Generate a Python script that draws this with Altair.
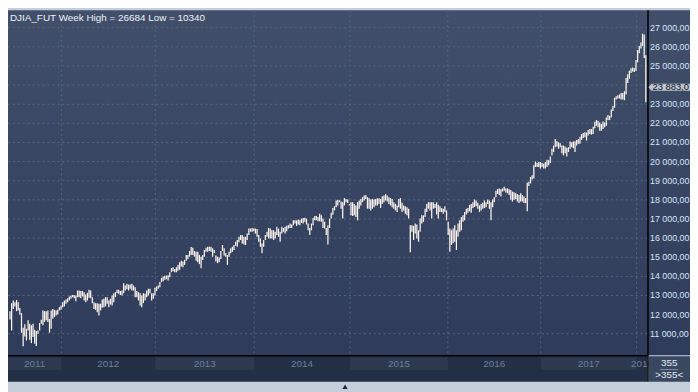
import altair as alt
import pandas as pd

# ---- weekly bar ranges (high / low) ----
high_a = [12170, 12600, 12740, 12650, 12770, 12650, 12340, 12080, 11310, 11490,
          11260, 11700, 11520, 11440, 11520, 11210, 11140, 11170, 11560, 11730,
          12220, 12180, 12180, 12220, 11780, 12220, 12300, 12250, 12220, 12250,
          12390, 12480, 12650, 12740, 12790, 12860, 12950, 13000, 13030, 13020,
          13000, 13260, 13260, 13240, 13240, 13170, 13050, 13140, 13300, 13260,
          12910, 12650, 12600, 12600, 12570, 12570, 12790, 12830, 12910, 12910,
          12740, 12830, 13000, 13120, 13170, 13300, 13300, 13230, 13260, 13640,
          13520, 13610, 13570, 13570, 13610, 13520, 13430, 13230, 13170, 13120,
          13000, 13120, 13090, 13260, 13350, 13350, 13120, 13120, 13400, 13470,
          13520, 13700, 13920, 13990, 14030, 14040, 14060, 14220, 14440, 14480,
          14390]
low_a = [11750, 11170, 12300, 12430, 12180, 12220, 11990, 11050, 10340, 10860,
         10650, 11170, 10690, 10510, 10830, 10480, 10360, 11000, 11170, 11520,
         11440, 11610, 11700, 11610, 11050, 11260, 11780, 11870, 11960, 12010,
         12220, 12250, 12390, 12430, 12570, 12650, 12740, 12830, 12910, 12860,
         12700, 12910, 12910, 12860, 12950, 12740, 12650, 12740, 12880, 12860,
         12600, 12300, 12250, 12130, 11960, 12220, 12360, 12390, 12430, 12570,
         12390, 12530, 12480, 12650, 12910, 13120, 13090, 13030, 13000, 13120,
         13260, 13330, 13260, 13350, 13260, 13260, 12910, 12910, 12740, 12480,
         12390, 12600, 12740, 12910, 13000, 13120, 12740, 12830, 13000, 13230,
         13350, 13430, 13700, 13750, 13820, 13850, 13780, 13960, 14220, 14270,
         14220]

high_b = [14470, 14600, 14740, 14810, 14780, 14860, 15120, 15120, 15330, 15530,
          15500, 15330, 15290, 15290, 15120, 15030, 15120, 15380, 15500, 15550,
          15550, 15550, 15470, 15380, 15090, 15030, 14980, 15330, 15640, 15470,
          15210, 15120, 15290, 15470, 15550, 15640, 15810, 15900, 16070, 16160,
          16160, 16070, 16070, 16240, 16500, 16500, 16530, 16500, 16500, 16470,
          16160, 15980, 15720, 15900, 16160, 16330, 16530, 16500, 16410, 16410,
          16330, 16590, 16500, 16330, 16590, 16530, 16590, 16640, 16670, 16760,
          16710, 16930, 16930, 16930, 16970, 16930, 17020, 17050, 17070, 17020,
          16760, 16530, 16760, 17050, 17160, 17160, 17100, 17280, 17190, 17020,
          16850, 16530, 16670, 17020, 17330, 17570, 17670]
low_b = [14220, 14290, 14350, 14520, 14470, 14600, 14810, 14910, 15030, 15120,
         15120, 15030, 14810, 14740, 14640, 14430, 14860, 15030, 15290, 15290,
         15330, 15290, 15030, 15210, 14780, 14690, 14740, 14910, 15330, 15090,
         15030, 14600, 15030, 15210, 15290, 15380, 15600, 15550, 15780, 15900,
         15720, 15670, 15640, 15900, 16160, 16330, 16330, 16360, 16240, 16070,
         15810, 15550, 15210, 15550, 15900, 16070, 15980, 15980, 15980, 15900,
         15980, 16160, 16070, 15810, 16240, 16330, 16240, 16360, 16500, 16530,
         16530, 16670, 16760, 16640, 16710, 16670, 16790, 16760, 16850, 16710,
         16410, 16160, 16410, 16670, 16930, 16930, 16880, 16880, 16850, 16530,
         16500, 16160, 15670, 16530, 17020, 17220, 17450]

high_c = [17970, 18000, 17980, 17910, 17880, 18090, 18050, 18020, 17790, 17880,
          17880, 17790, 17710, 17880, 17970, 18050, 18140, 18230, 18260, 18140,
          18090, 18020, 18050, 18020, 18050, 18090, 18090, 18050, 18190, 18230,
          18310, 18230, 18140, 18090, 18050, 17880, 17790, 17710, 18050, 18090,
          17850, 17710, 17670, 17620, 17540, 16670, 16670, 16640, 16760, 16710,
          16410, 17020, 17190, 17190, 17540, 17790, 17880, 17880, 17880, 17880,
          17790, 17880, 17740, 17670, 17570, 17540, 17670, 17450, 16850, 16500,
          16410, 16500, 16670, 16410, 16760, 16930, 17100, 17190, 17360, 17540,
          17570, 17740, 17790, 17880, 18020, 17970, 17850, 17710, 17790, 17850,
          17970, 17880, 18020, 17970, 17880, 18020, 18140, 18480, 18570]
low_c = [17620, 17710, 17880, 17540, 17020, 17710, 17880, 17830, 17710, 17190,
         17160, 17190, 17100, 16930, 17540, 17710, 17880, 17970, 18050, 17540,
         17540, 17450, 17540, 17620, 17710, 17710, 17790, 17570, 17790, 17880,
         17970, 17910, 17790, 17710, 17620, 17540, 17450, 17360, 17620, 17540,
         17360, 17450, 17280, 17190, 17020, 15260, 16330, 15900, 16240, 15980,
         15810, 16330, 16760, 16850, 17100, 17360, 17540, 17450, 17020, 17540,
         17570, 17230, 17020, 17360, 17360, 17280, 17360, 16930, 16160, 15290,
         15640, 15730, 15810, 15380, 16070, 16330, 16410, 16850, 16930, 17230,
         17330, 17400, 17330, 17570, 17620, 17670, 17540, 17360, 17450, 17540,
         17570, 17620, 17790, 17540, 16930, 17620, 17880, 18140, 18310]

high_d = [18600, 18550, 18600, 18690, 18600, 18600, 18550, 18520, 18430, 18400,
          18340, 18310, 18260, 18340, 18260, 18170, 18090, 18900, 18950, 19200,
          19290, 19810, 20010, 19930, 19980, 19980, 19930, 19890, 19980, 20100,
          20070, 20270, 20670, 20840, 21180, 21060, 21010, 20960, 20840, 20840,
          20790, 20720, 20750, 21050, 21010, 21050, 21060, 21130, 21180, 21300,
          21440, 21490, 21530, 21530, 21650, 21700, 21700, 21820, 22080, 22170,
          22130, 22040, 21960, 22100, 22040, 22300, 22440, 22390, 22730, 22910,
          23340, 23420, 23470, 23510, 23590, 23590, 23680, 24370, 24570, 24750,
          24880, 24920, 24880, 25310, 25830, 26050, 26230, 26684, 26650, 25560]
low_d = [18260, 18170, 18430, 18480, 18380, 18340, 18260, 18000, 17910, 18000,
         18030, 17910, 17830, 17910, 17910, 17830, 17830, 17400, 18720, 18860,
         19070, 19120, 19720, 19720, 19720, 19640, 19720, 19640, 19640, 19720,
         19810, 19930, 20320, 20500, 20750, 20790, 20670, 20750, 20440, 20320,
         20440, 20270, 20500, 20670, 20750, 20700, 20500, 20840, 20930, 20930,
         21130, 21240, 21270, 21100, 21360, 21440, 21410, 21440, 21750, 21870,
         21790, 21610, 21610, 21700, 21790, 21870, 22170, 22170, 22300, 22650,
         22820, 23250, 23300, 23300, 23250, 23250, 23210, 23510, 24110, 24330,
         24630, 24710, 24680, 24750, 25190, 25660, 25920, 26050, 25420, 23100]

# ---- axis / annotation data ----
year_labels = ["2011", "2012", "2013", "2014", "2015", "2016", "2017", "2018"]
year_start_bar = [-1.2, 31.2, 88.2, 148.2, 206.4, 265.8, 322.2, 380.4]
year_end_bar = [31.2, 88.2, 148.2, 206.4, 265.8, 322.2, 380.4, 387.0]
year_shaded = [True, False, True, False, True, False, True, False]

price_labels = [27000, 26000, 25000, 23000, 22000, 21000, 20000, 19000, 18000,
                17000, 16000, 15000, 14000, 13000, 12000, 11000]
grid_levels = [27000, 26000, 25000, 24000, 23000, 22000, 21000, 20000, 19000,
               18000, 17000, 16000, 15000, 14000, 13000, 11000]
last_price = 23883
title_text = "DJIA_FUT Week High = 26684 Low = 10340"
bar_count_text = "355"
bar_count_sel = ">355<"

FONT = "Liberation Sans"
W, H = 647, 349
XS = alt.Scale(domain=[-1.2, 387.0], nice=False, zero=False)
YS = alt.Scale(domain=[9879, 27915], nice=False, zero=False)

high = high_a + high_b + high_c + high_d
low = low_a + low_b + low_c + low_d
bars = pd.DataFrame({"bar": list(range(len(high))), "high": high, "low": low})

years = pd.DataFrame({"label": year_labels, "start": year_start_bar,
                      "end": year_end_bar, "shaded": year_shaded})
years["mid"] = (years["start"] + years["end"]) / 2

def fmt(v, dec=2):
    s = f"{v:,.{dec}f}"
    return s.replace(",", " ").replace(".", ",")

plabels = pd.DataFrame({"v": price_labels, "label": [fmt(v) for v in price_labels]})
grid = pd.DataFrame({"v": grid_levels})
vgrid = pd.DataFrame({"b": year_start_bar[1:]})
lastp = pd.DataFrame({"v": [last_price], "label": [fmt(last_price, 1)]})
one = pd.DataFrame({"k": [0]})

grad = alt.Gradient(
    gradient="linear",
    stops=[alt.GradientStop(color="#414f6a", offset=0),
           alt.GradientStop(color="#2e3b5a", offset=1)],
    x1=0, x2=0, y1=0, y2=1,
)

bg = alt.Chart(one).mark_rect(fill=grad).encode(
    x=alt.value(0), x2=alt.value(690), y=alt.value(0), y2=alt.value(H))

strip = alt.Chart(one).mark_rect(fill="#232f46").encode(
    x=alt.value(0), x2=alt.value(W), y=alt.value(H), y2=alt.value(376))

bands = alt.Chart(years).transform_filter("datum.shaded").mark_rect(fill="#2c3951").encode(
    x=alt.X("start:Q", scale=XS, axis=None), x2="end:Q",
    y=alt.value(351), y2=alt.value(364))

year_text = alt.Chart(years).mark_text(
    font=FONT, fontSize=10, color="#6f7e97", baseline="middle", align="center").encode(
    x=alt.X("mid:Q", scale=XS, axis=None), y=alt.value(358), text="label:N")

hgrid = alt.Chart(grid).mark_rule(color="#56667f", strokeWidth=1, strokeDash=[2, 3]).encode(
    y=alt.Y("v:Q", scale=YS, axis=None), x=alt.value(0), x2=alt.value(W))

vg = alt.Chart(vgrid).mark_rule(color="#56667f", strokeWidth=1, strokeDash=[2, 3]).encode(
    x=alt.X("b:Q", scale=XS, axis=None), y=alt.value(0), y2=alt.value(H))

ohlc = alt.Chart(bars).mark_rule(color="#fff6ef", strokeWidth=1.25).encode(
    x=alt.X("bar:Q", scale=XS, axis=None),
    y=alt.Y("low:Q", scale=YS, axis=None), y2="high:Q")

hline = alt.Chart(one).mark_rule(color="#000000", strokeWidth=1.5).encode(
    x=alt.value(0), x2=alt.value(W), y=alt.value(H + 0.5))
vline = alt.Chart(one).mark_rule(color="#000000", strokeWidth=1.5).encode(
    x=alt.value(W + 0.5), y=alt.value(0), y2=alt.value(376))

corner = alt.Chart(one).mark_rect(fill="#394761").encode(
    x=alt.value(W + 1.5), x2=alt.value(690), y=alt.value(H + 1), y2=alt.value(376))
cnt1 = alt.Chart(one).mark_text(font=FONT, fontSize=10, color="#e2eaf6",
                                 text=bar_count_text).encode(
    x=alt.value(669), y=alt.value(357))
cline = alt.Chart(one).mark_rule(color="#7f8da5", strokeWidth=1).encode(
    x=alt.value(660), x2=alt.value(678), y=alt.value(363.5))
cnt2 = alt.Chart(one).mark_text(font=FONT, fontSize=10, color="#e2eaf6",
                                 text=bar_count_sel).encode(
    x=alt.value(669), y=alt.value(369.5))

tri = alt.Chart(one).mark_point(shape="triangle-up", filled=True, size=28,
                                color="#1c2436", opacity=1).encode(
    x=alt.value(341), y=alt.value(381))

ylab = alt.Chart(plabels).mark_text(font=FONT, fontSize=9, color="#d6e4f7",
                                    align="left", baseline="middle").encode(
    y=alt.Y("v:Q", scale=YS, axis=None), x=alt.value(649.5), text="label:N")

marker = alt.Chart(lastp).mark_point(
    shape="M -1 0 L -0.86 -0.17 L 1 -0.17 L 1 0.17 L -0.86 0.17 Z",
    size=1764, filled=True, color="#bcc4d1", opacity=1, strokeWidth=0).encode(
    y=alt.Y("v:Q", scale=YS, axis=None), x=alt.value(669))
mtext = alt.Chart(lastp).mark_text(font=FONT, fontSize=9.5, color="#0c1320",
                                   align="left", baseline="middle").encode(
    y=alt.Y("v:Q", scale=YS, axis=None), x=alt.value(652), text="label:N")

title = alt.Chart(one).mark_text(font=FONT, fontSize=10, color="#eef2f8",
                                 align="left", baseline="alphabetic",
                                 text=title_text).encode(
    x=alt.value(2), y=alt.value(10.5))

chart = alt.layer(
    bg, strip, bands, year_text, hgrid, vg, ohlc, hline, vline,
    corner, cnt1, cline, cnt2, tri, ylab, marker, mtext, title
).properties(
    width=W, height=H,
    padding={"left": 0, "top": 0, "right": 43, "bottom": 35},
    autosize=alt.AutoSizeParams(type="none"),
    background="#c5cfdc",
).configure_view(strokeWidth=0)

chart.save("out.html", embed_options={"renderer": "svg", "actions": False})
